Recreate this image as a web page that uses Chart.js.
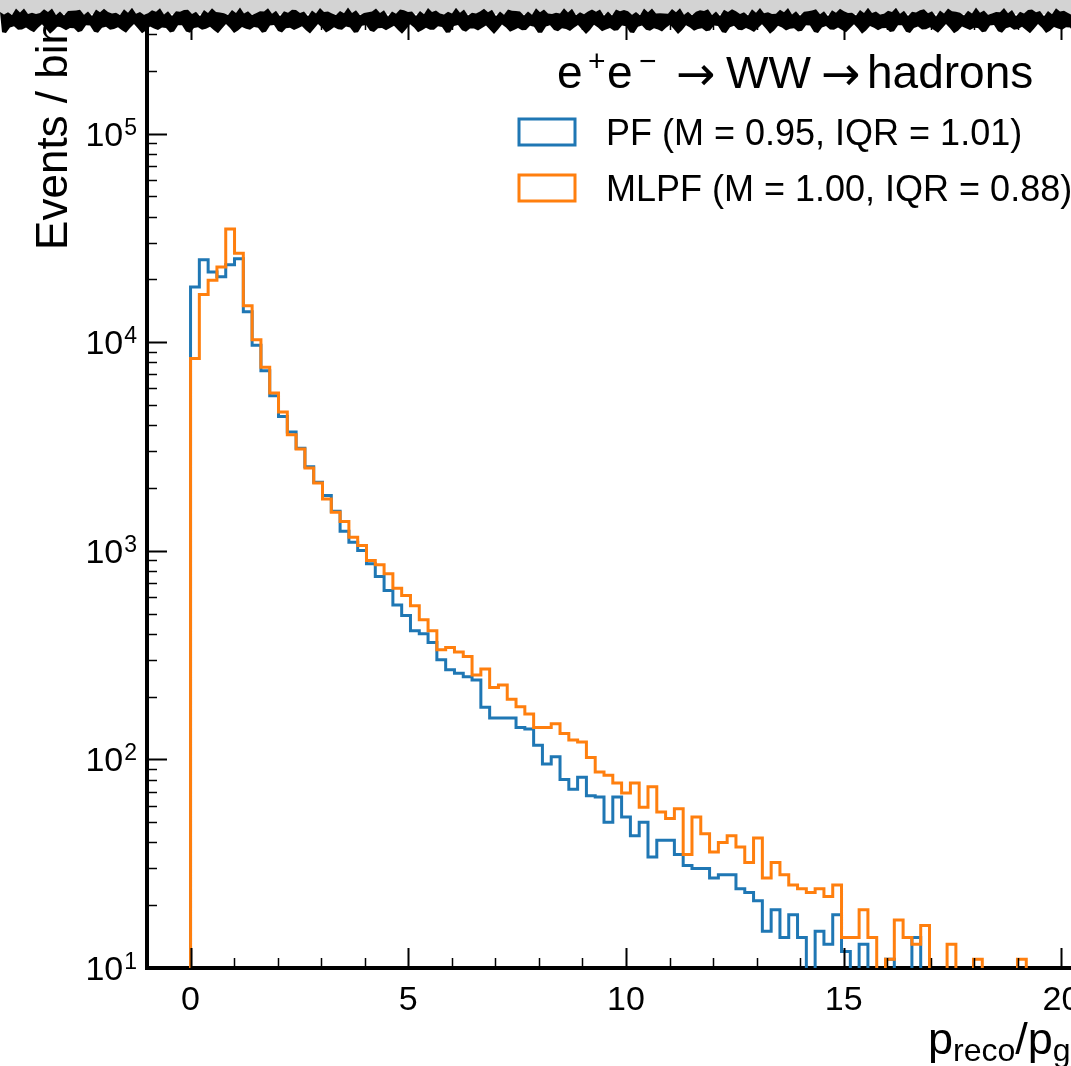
<!DOCTYPE html>
<html>
<head>
<meta charset="utf-8">
<script src="https://cdn.jsdelivr.net/npm/chart.js@4.4.1/dist/chart.umd.min.js"></script>
<style>
  html, body { margin: 0; padding: 0; background: #fff; overflow: hidden; }
  #wrap { width: 1071px; height: 1066px; overflow: hidden; position: relative; }
  canvas { display: block; }
</style>
</head>
<body>
<div id="wrap"><canvas id="respChart" width="1150" height="1066"></canvas></div>
<script>
// histogram range: 99 equal bins between 0 and 20
const binLow = 0;
const binHigh = 20;

// PF counts per bin
const pfCounts = [
  18400, 24800, 21700, 20600, 23500, 25100, 14000, 9660, 7300, 5530,
  4400, 3710, 3100, 2530, 2130, 1840, 1545, 1240, 1097, 1004,
  867, 753, 645, 549, 490, 413, 400, 363, 300, 269,
  259, 249, 240, 178, 158, 158, 158, 142, 140, 117,
  95, 103, 80, 72, 82, 67, 66, 50, 66, 53,
  43, 50, 34, 41, 41, 35, 31, 30, 30, 27,
  28, 28, 24, 23, 21, 15, 19, 14, 18, 14,
  8, 15, 13, 18, 12, 8, 13, 7, 6, 11,
  7, 6, 14, 5, 6, 4, 5, 3, 4, 3,
  2, 3, 2, 2, 3, 1, 2, 1, 1
];

// MLPF counts per bin
const mlpfCounts = [
  8340, 16900, 19800, 22900, 34900, 26700, 14960, 10280, 7570, 5700,
  4630, 3600, 3070, 2490, 2110, 1770, 1530, 1380, 1160, 1060,
  899, 858, 776, 662, 611, 545, 467, 413, 335, 344,
  327, 311, 254, 271, 221, 227, 194, 179, 165, 142,
  142, 148, 133, 124, 121, 102, 87, 84, 77, 69,
  77, 59, 74, 56, 52, 58, 35, 53, 44, 36,
  40, 43, 38, 32, 42, 27, 32, 28, 25, 24,
  23, 24, 22, 25, 14, 14, 19, 14, 8, 11,
  17, 14, 13, 16, 7, 6, 13, 6, 5, 11,
  4, 5, 4, 3, 11, 3, 2, 2, 1
];

const xTickValues = [0, 5, 10, 15, 20];
const yTickExponents = [1, 2, 3, 4, 5];

const pfLabel = 'PF (M = 0.95, IQR = 1.01)';
const mlpfLabel = 'MLPF (M = 1.00, IQR = 0.88)';

const FONT = "'Liberation Sans', Arial, sans-serif";
const ARROW_FONT = "'DejaVu Sans', sans-serif";

// outline of a step histogram, starting and ending on the floor
function stepPoints(counts) {
  const w = (binHigh - binLow) / counts.length;
  const pts = [{ x: binLow, y: 1 }];
  counts.forEach((c, i) => pts.push({ x: binLow + i * w, y: c }));
  pts.push({ x: binHigh, y: counts[counts.length - 1] });
  pts.push({ x: binHigh, y: 1 });
  return pts;
}

// text made of pieces with different sizes / offsets / fonts
function drawRich(ctx, parts, x, y) {
  let cx = x;
  parts.forEach(p => {
    ctx.font = p.s + 'px ' + (p.f || FONT);
    const px = p.x !== undefined ? p.x : cx;
    ctx.fillText(p.t, px, y + (p.dy || 0));
    cx = px + ctx.measureText(p.t).width + (p.gap || 0);
  });
}

const decorations = {
  id: 'decorations',
  afterDraw(chart) {
    const ctx = chart.ctx;
    const area = chart.chartArea;
    const xs = chart.scales.x;
    const ys = chart.scales.y;
    ctx.save();
    ctx.strokeStyle = '#000';
    ctx.fillStyle = '#000';

    // inward ticks, y axis
    for (let e = 1; e <= 5; e++) {
      for (let m = 1; m <= 9; m++) {
        const v = m * Math.pow(10, e);
        if (v < ys.min || v > ys.max) continue;
        const py = Math.round(ys.getPixelForValue(v)) + 0.5;
        const len = m === 1 ? 20 : 10;
        ctx.lineWidth = m === 1 ? 2 : 1.5;
        ctx.beginPath();
        ctx.moveTo(area.left, py);
        ctx.lineTo(area.left + len, py);
        ctx.stroke();
      }
    }
    // inward ticks, x axis (bottom and mirrored top)
    for (let v = Math.ceil(xs.min); v <= xs.max; v++) {
      const px = Math.round(xs.getPixelForValue(v)) + 0.5;
      const len = v % 5 === 0 ? 20 : 10;
      ctx.lineWidth = v % 5 === 0 ? 2 : 1.5;
      ctx.beginPath();
      ctx.moveTo(px, area.bottom);
      ctx.lineTo(px, area.bottom - len);
      ctx.moveTo(px, area.top);
      ctx.lineTo(px, area.top + len);
      ctx.stroke();
    }

    // tick labels
    ctx.textBaseline = 'alphabetic';
    ctx.textAlign = 'center';
    ctx.font = '34px ' + FONT;
    xTickValues.forEach(v => {
      ctx.fillText(String(v), xs.getPixelForValue(v), 1010);
    });
    yTickExponents.forEach(e => {
      const py = ys.getPixelForValue(Math.pow(10, e));
      ctx.textAlign = 'right';
      ctx.font = '23px ' + FONT;
      const ew = ctx.measureText(String(e)).width;
      ctx.fillText(String(e), 137, py + 1);
      ctx.font = '34px ' + FONT;
      ctx.fillText('10', 137 - ew - 1, py + 12);
    });

    // axis titles
    ctx.textAlign = 'left';
    const xParts = [
      { t: 'p', s: 45 }, { t: 'reco', s: 32, dy: 7 },
      { t: '/', s: 45 }, { t: 'p', s: 45 }, { t: 'gen', s: 32, dy: 7 }
    ];
    drawRich(ctx, xParts, 928, 1054);

    ctx.save();
    ctx.translate(67, area.top);
    ctx.rotate(-Math.PI / 2);
    ctx.textAlign = 'right';
    ctx.font = '44px ' + FONT;
    ctx.fillText('Events / bin', 0, 0);
    ctx.restore();

    // legend: title, then one row per dataset
    ctx.textAlign = 'left';
    const title = [
      { t: 'e', s: 46, x: 557 }, { t: '+', s: 30, dy: -17, x: 588 },
      { t: 'e', s: 46, x: 607 }, { t: '\u2212', s: 30, dy: -17, x: 639 },
      { t: '\u2192', s: 47, f: ARROW_FONT, dy: 2, x: 676 },
      { t: 'WW', s: 45, x: 726 },
      { t: '\u2192', s: 47, f: ARROW_FONT, dy: 2, x: 821 },
      { t: 'hadrons', s: 46, x: 867 }
    ];
    drawRich(ctx, title, 557, 88);

    const rows = [chart.data.datasets[0], chart.data.datasets[1]];
    rows.forEach((ds, i) => {
      const cy = 132 + i * 56;
      ctx.strokeStyle = ds.borderColor;
      ctx.lineWidth = 3;
      ctx.strokeRect(519, cy - 13, 56, 26);
      ctx.fillStyle = '#000';
      ctx.font = '36px ' + FONT;
      ctx.fillText(ds.label, 606, cy + 13);
    });

    // torn strip along the top edge
    ctx.fillStyle = '#d3d3d3';
    ctx.fillRect(0, 0, chart.width, 14);
    ctx.fillStyle = '#000';
    ctx.beginPath();
    ctx.moveTo(0, 12);
    for (let x = 0; x <= chart.width; x += 4) {
      ctx.lineTo(x, 12 + 2.5 * Math.sin(x * 0.7) + 2 * Math.sin(x * 0.23));
    }
    for (let x = chart.width; x >= 0; x -= 4) {
      ctx.lineTo(x, 29 + 3 * Math.sin(x * 0.41) + 2 * Math.sin(x * 1.3));
    }
    ctx.closePath();
    ctx.fill();
    ctx.restore();
  }
};

const ctxResp = document.getElementById('respChart').getContext('2d');
new Chart(ctxResp, {
  type: 'line',
  data: {
    datasets: [{
      label: pfLabel,
      data: stepPoints(pfCounts),
      borderColor: '#1f77b4',
      borderWidth: 3,
      stepped: 'before',
      pointRadius: 0,
      fill: false,
      order: 2
    }, {
      label: mlpfLabel,
      data: stepPoints(mlpfCounts),
      borderColor: '#ff7f0e',
      borderWidth: 3,
      stepped: 'before',
      pointRadius: 0,
      fill: false,
      order: 1
    }]
  },
  options: {
    responsive: false,
    animation: false,
    layout: { padding: { top: 20, right: 45, left: 0, bottom: 0 } },
    plugins: { legend: { display: false }, tooltip: { enabled: false } },
    scales: {
      x: {
        type: 'linear', min: -1, max: 21,
        grid: { display: false, drawTicks: false },
        ticks: { display: false },
        border: { display: true, color: '#000', width: 4 },
        afterFit: s => { s.height = 98; }
      },
      y: {
        type: 'logarithmic', min: 10, max: 3.5e5,
        grid: { display: false, drawTicks: false },
        ticks: { display: false },
        border: { display: true, color: '#000', width: 4 },
        afterFit: s => { s.width = 147; }
      }
    }
  },
  plugins: [decorations]
});
</script>
</body>
</html>
